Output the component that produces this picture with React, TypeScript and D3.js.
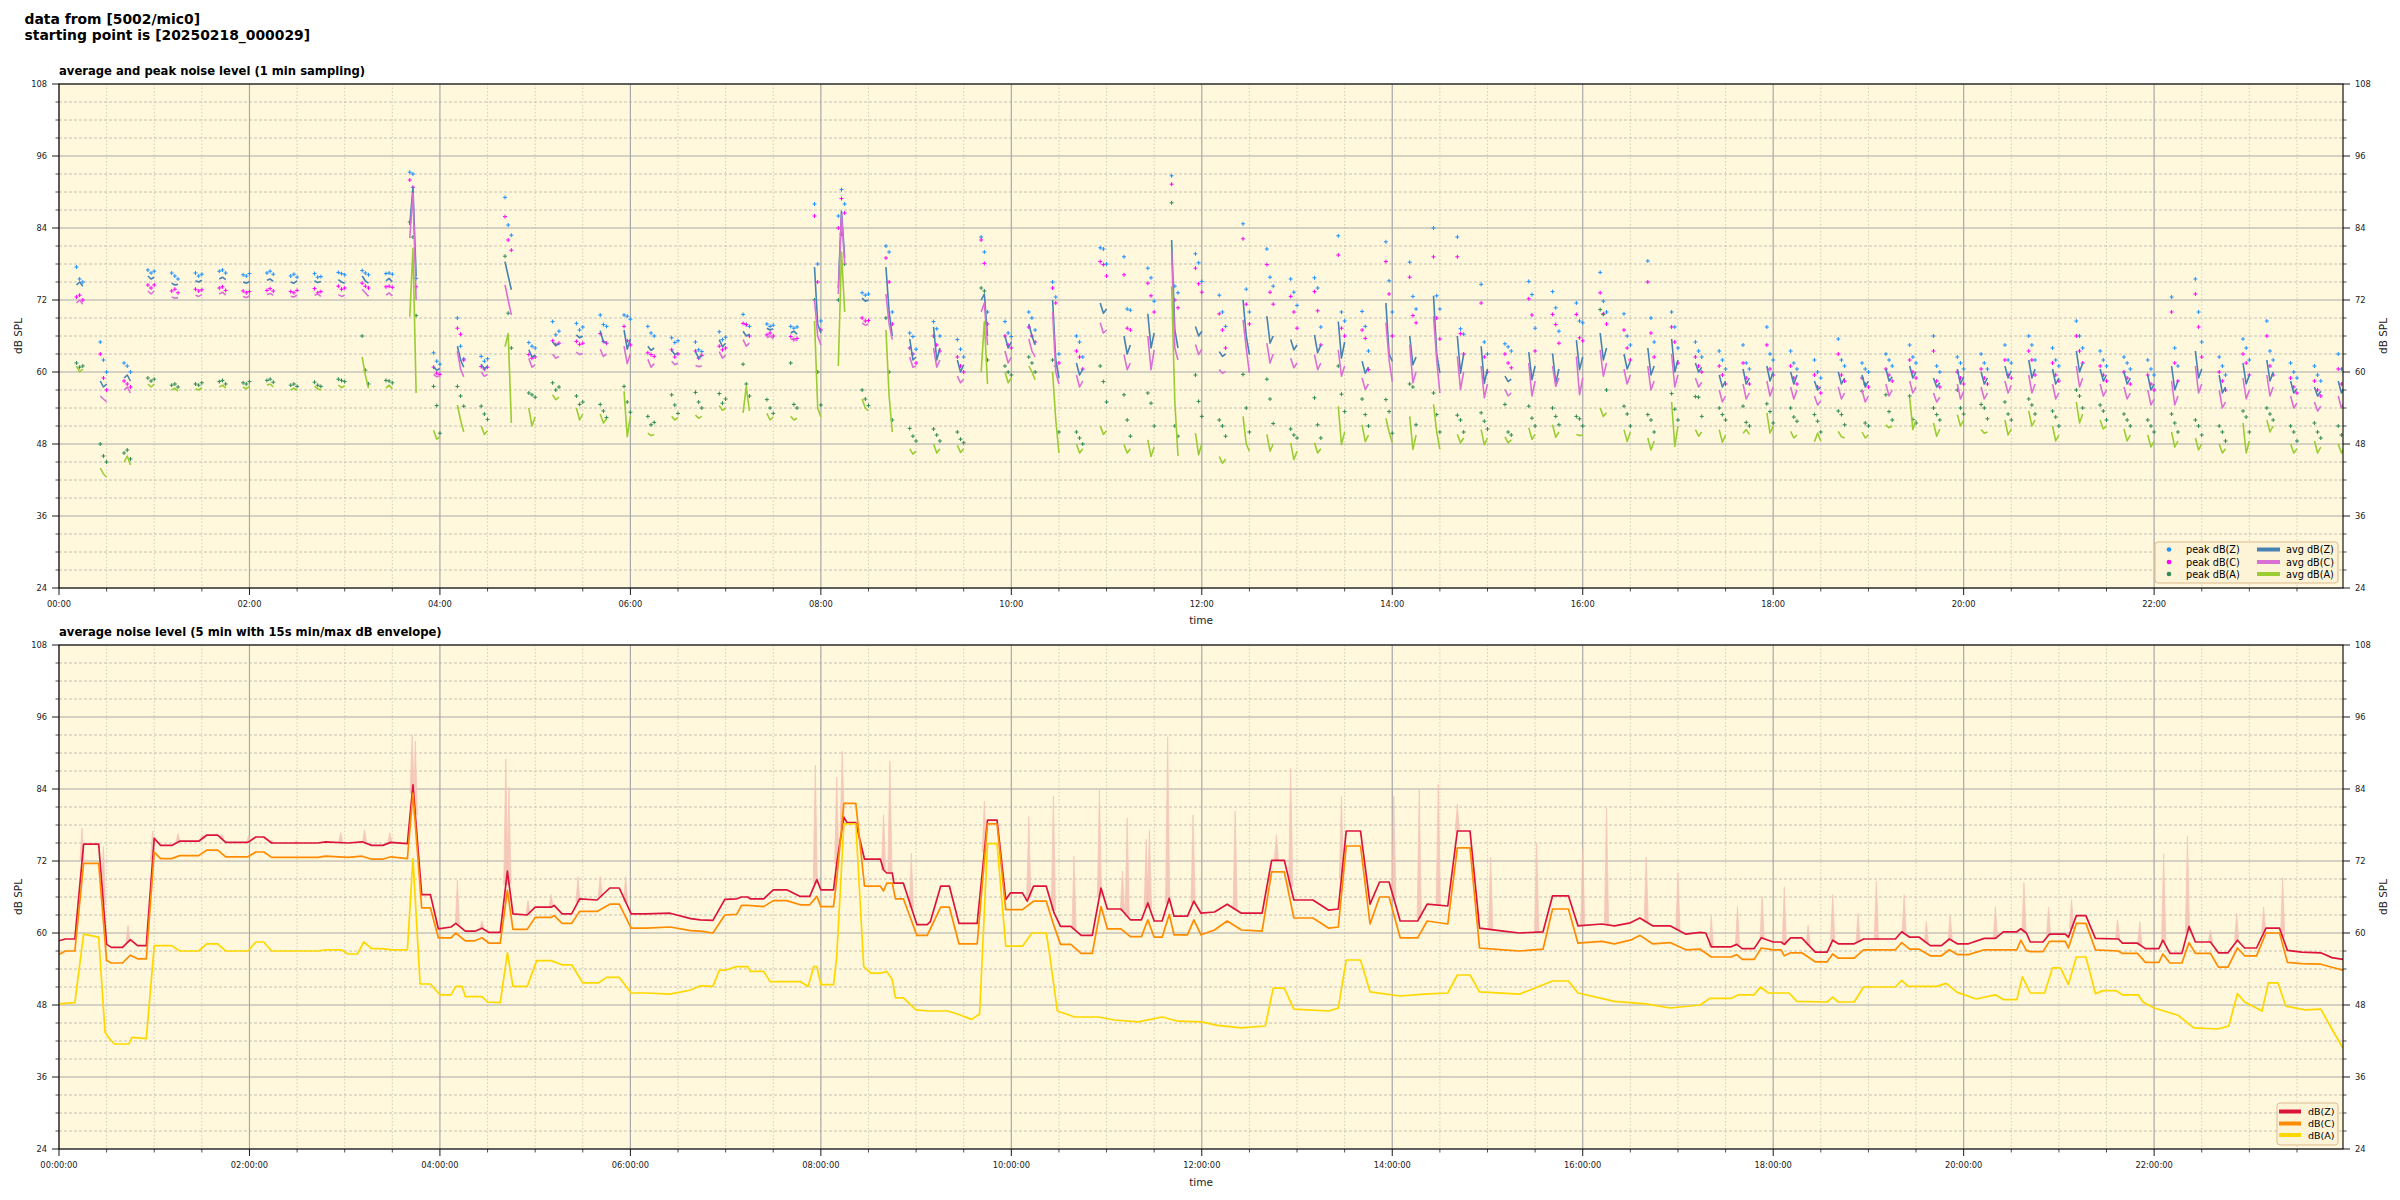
import React from "react";
import * as d3 from "d3";

const width = 2400;
const height = 1200;

// plot boxes (px)
const plotLeft = 59;
const plotRight = 2343;
const top1 = 84;
const bottom1 = 588;
const top2 = 645;
const bottom2 = 1149;

const font = "'DejaVu Sans', 'Liberation Sans', sans-serif";
const bg = "#fff8dc";

// minutes since 00:00
const tEnd = 1439;

// ---- top chart: 1 min sampling, one burst every 15 min ----
const burstTimes = [
  13, 28, 43, 58, 73, 88, 103, 118, 133, 148, 163, 178, 193, 208, 223, 238, 253, 268, 283, 298,
  313, 328, 343, 358, 373, 388, 403, 418, 433, 448, 463, 478, 493, 508, 523, 538, 553, 568, 583, 598,
  613, 628, 643, 658, 673, 688, 703, 718, 733, 748, 763, 778, 793, 808, 823, 838, 853, 868, 883, 898,
  913, 928, 943, 958, 973, 988, 1003, 1018, 1033, 1048, 1063, 1078, 1093, 1108, 1123, 1138, 1153, 1168, 1183, 1198,
  1213, 1228, 1243, 1258, 1273, 1288, 1303, 1318, 1333, 1348, 1363, 1378, 1393, 1408, 1423, 1438,
];
const sampleOffsets = [-2, 0, 2];

const avgZ = [
  [74.5, 75, 74.3], [58.5, 57.5, 58], [59, 59.5, 58.5], [76, 75.5, 75.8], [74.8, 74.5, 74.6], [75.2, 75, 75.3], [75.5, 75.8, 75.4], [75, 74.8, 75.1],
  [75.3, 75.5, 75.1], [75, 74.8, 75.2], [75.2, 74.9, 75.1], [75.4, 75, 74.8], [76, 75.2, 74.8], [75.2, 75.6, 75], [84.5, 90.8, 76], [60.8, 60.3, 60.6],
  [64.3, 62, 60.8], [61.3, 60.5, 61], [78.4, 76, 73.7], [63.7, 62.5, 62.8], [65, 64.4, 64.7], [66.2, 65.7, 66], [66.9, 65, 64.9], [67, 63.8, 65.5],
  [64.3, 63.6, 64], [63.6, 62.9, 63.2], [63.4, 62.3, 62.8], [65.4, 64.2, 64.8], [66.8, 66, 66.3], [67.3, 67, 67.2], [66.5, 66.8, 66.3], [77.5, 68, 66.5],
  [74, 86.8, 79], [72.3, 71.8, 72], [77.5, 70, 66], [65.5, 62, 62.5], [67.5, 62, 64], [62, 60, 61.2], [72, 73, 66], [66, 64, 65],
  [68, 66, 64.5], [72, 62, 59], [61.5, 59.5, 60.5], [71.5, 69.8, 70.5], [66, 63, 64.5], [69.7, 64, 66.5], [82, 67, 64], [67.6, 66, 66.8],
  [63.4, 62.6, 63], [72, 66, 62.9], [69.3, 64.8, 66], [65.4, 63.7, 64.5], [66.2, 63.2, 64.5], [68.4, 62.3, 65], [61.8, 59.8, 60.8], [71.5, 63, 61.8],
  [66, 61.2, 62.5], [72.7, 63, 59.8], [66, 59.8, 63], [64.3, 58.1, 60.5], [59.3, 58.4, 58.8], [63.3, 58.7, 61], [63.1, 58.1, 60.5], [65.3, 60.4, 62.5],
  [66.5, 62, 64], [63, 60.5, 61.8], [64, 59.5, 61], [65.5, 60, 62], [61.5, 60, 60.8], [59.5, 57.5, 58.5], [60.5, 58, 59], [61, 58.5, 60],
  [60, 58, 59.5], [58.5, 57, 57.5], [60, 58, 59], [59.5, 57.5, 58.5], [60.5, 58.5, 59.2], [61, 59, 60], [59, 57.5, 58.2], [60.5, 58, 59.2],
  [60, 58, 59], [61, 59, 60.2], [62, 59, 60.5], [60.5, 58, 59], [63.5, 60, 61.5], [60.5, 58.5, 59.5], [60, 58, 59], [59.5, 57, 58],
  [61, 57, 58.5], [63.5, 59, 60.5], [59.5, 56.5, 57.5], [61.5, 58, 59.5], [62, 58.5, 60], [58.5, 56.5, 57.2], [57.5, 56, 56.8], [58.5, 56.5, 57.5],
];
const avgC = [
  [71.5, 72, 71.3], [56, 55.5, 55], [57, 57.5, 56.5], [73.5, 73, 73.5], [72.5, 72.3, 72.4], [72.8, 72.6, 72.9], [73, 73.3, 72.8], [72.6, 72.4, 72.7],
  [72.9, 73.1, 72.8], [72.6, 72.5, 72.8], [72.8, 73, 72.6], [72.9, 72.6, 72.8], [73.8, 73.2, 72.6], [72.8, 73.2, 72.7], [82.3, 89.8, 72], [59.6, 59.2, 59.4],
  [63.5, 60.5, 59.2], [60, 59.3, 59.6], [74.5, 72, 69.5], [62.3, 60.8, 61.2], [63, 62.3, 62.6], [63.3, 62.9, 63.1], [63.8, 62.6, 63], [64.3, 61.4, 63],
  [62.1, 60.8, 61.4], [61.8, 61.2, 61.5], [61.1, 60.9, 61], [63.4, 62.3, 62.8], [65.4, 64.3, 64.8], [65.7, 66, 65.5], [65.4, 65.6, 65.2], [72, 66, 64.5],
  [73, 86.3, 78], [68.2, 67.8, 68], [73, 68, 65.4], [62.5, 60.8, 61], [64, 60.8, 62], [59.3, 58.2, 58.8], [70, 71.5, 64.5], [63.5, 61.5, 62.5],
  [65.5, 63.5, 62.5], [70, 60, 58], [59.5, 57.5, 58.5], [68.2, 66.5, 67], [62.9, 60.4, 61.5], [66, 60.4, 63.7], [80, 64, 62], [64.6, 62.9, 63.8],
  [60.4, 59.8, 60.1], [68.7, 64, 59.8], [64.8, 61.5, 63], [62.3, 60.7, 61.5], [62.9, 60.4, 61.5], [63.7, 59.3, 61], [59, 57.1, 58], [68.2, 62, 58.4],
  [64.6, 58.2, 60], [69.3, 62, 56.5], [62.6, 57.1, 60], [61, 55.7, 58], [57.1, 56, 56.5], [61.5, 56, 58.5], [61, 57.6, 59], [62.6, 56.2, 59],
  [63.7, 59.3, 61.5], [60.5, 58, 59.5], [61, 57, 58.5], [63, 57.5, 59.5], [59, 57.5, 58.3], [57, 55, 56], [58, 55.5, 56.5], [58.5, 56, 57.5],
  [57.5, 55.5, 57], [56, 54.5, 55.2], [57.5, 55.5, 56.5], [57, 55, 56], [58, 56, 57], [58.5, 56.5, 57.5], [56.5, 55, 55.8], [58, 55.5, 56.8],
  [57.5, 55.5, 56.5], [58.5, 56.5, 57.8], [59.5, 56.5, 58], [58, 55.5, 56.5], [61, 57.5, 59], [58, 56, 57], [57.5, 55.5, 56.5], [57, 54.5, 55.5],
  [58.5, 54.5, 56], [61, 56.5, 58], [57, 54, 55], [59, 55.5, 57], [59.5, 56, 57.5], [56, 54, 54.8], [55, 53.5, 54.3], [56, 54, 55],
];
const avgA = [
  [61, 60, 60.5], [44, 43, 42.5], [45, 46, 44.5], [58, 57.5, 58], [57, 57.3, 56.8], [57.2, 57, 57.4], [57.5, 57.8, 57.3], [57.5, 57.2, 57.6],
  [57.8, 58, 57.5], [57, 57.3, 56.9], [57.6, 57.2, 57], [57.8, 57.4, 57.7], [62.5, 59.5, 57.3], [57.3, 57.8, 57.2], [69.2, 80.6, 56.5], [50.3, 48.8, 49.2],
  [54.5, 52, 50], [51, 49.6, 50.2], [64.2, 66.4, 51.5], [54, 51, 52.5], [56.2, 55.4, 55.8], [54, 52, 53], [53, 51.5, 52.2], [56.8, 49.2, 52.6],
  [49.8, 49.4, 49.6], [52.6, 52, 52.4], [52.8, 52.3, 52.6], [54.4, 53.6, 54], [53.2, 57.6, 53.5], [53.1, 52, 52.5], [52.6, 52, 52.3], [68.5, 54, 52.5],
  [61, 80, 70], [55.5, 54, 53.5], [67, 56, 50], [47.2, 46.3, 46.8], [48, 46.5, 47.2], [47.8, 46.6, 47.2], [60, 68.4, 58], [60, 58.2, 59],
  [61, 60, 58.7], [60, 52, 46.5], [48, 46.5, 47.2], [51, 49.6, 50.2], [47.9, 46.5, 47.2], [48.7, 45.9, 47.5], [74.3, 55, 46], [49.8, 46.2, 48],
  [45.9, 44.8, 45.5], [52.6, 48, 46.8], [49.6, 46.8, 48], [48.2, 45.4, 46.8], [48.2, 46.5, 47.2], [54.3, 47.9, 50], [51.2, 48.4, 49.5], [52.3, 50, 48.2],
  [52.6, 47.1, 49.5], [54.6, 50, 47.1], [49.6, 48.2, 49], [50.4, 47.9, 49], [49.2, 48.2, 48.7], [50.7, 48.8, 49.6], [51.2, 49.1, 50], [49.6, 49.4, 49.5],
  [54, 52.6, 53.2], [50.4, 48.4, 50], [49, 47, 48.5], [55, 47.6, 51], [50.4, 49.3, 50], [50.4, 48.3, 49.5], [49.8, 50.4, 49.6], [53.2, 49.8, 51],
  [50.1, 49, 49.5], [48.4, 49.8, 48.5], [50.1, 49.2, 49], [50, 49, 49.5], [51.2, 50.7, 51], [55.7, 50.4, 52], [51.5, 49.3, 50.5], [52.9, 51, 52],
  [50.4, 49.8, 50], [52, 49.5, 50.5], [53.5, 51, 52], [51, 48.5, 49.5], [55, 51.5, 53], [52, 50.5, 51], [50.5, 48.5, 49.5], [49.5, 47.5, 48.5],
  [50, 47.5, 48.5], [49, 47, 48], [48, 46.5, 47.2], [51.5, 46.5, 48.5], [52, 50, 51], [48, 46.5, 47.2], [48.5, 46.5, 47.5], [48, 46.5, 47.5],
];
const peakZ = [
  [77.5, 75.5, 75], [65, 62, 60], [61.5, 61, 60], [77, 76.5, 76.8], [76.5, 76, 75.5], [76.5, 76, 76.3], [76.8, 77, 76.5], [76.2, 76, 76.4],
  [76.5, 76.8, 76.3], [76, 76.3, 75.8], [76.4, 75.8, 75.9], [76.6, 76.4, 76.2], [76.9, 76.5, 76.2], [76.4, 76.5, 76.3], [93.3, 93, 75.6], [63.2, 61.8, 61.3],
  [69, 64.3, 62.2], [62.6, 61.8, 62.2], [89.1, 84.5, 82.8], [64.9, 64.3, 64], [68.4, 66.2, 66.8], [68.1, 67, 67.5], [69.5, 67.9, 67.6], [69.5, 69.3, 68.8],
  [67.6, 66.5, 66], [65.7, 64.9, 65.2], [65, 63.7, 63.4], [66.7, 65.4, 65.8], [69.6, 67.9, 67.6], [68, 67.6, 67.8], [67.6, 67.3, 67.5], [88, 78, 68.5],
  [86, 90.4, 88], [73.2, 72.8, 73], [81, 80, 70], [66.5, 65.9, 63.8], [68.4, 67.2, 66], [65.4, 63.8, 62.5], [82.5, 80, 70], [68.4, 66.5, 65.9],
  [70, 69, 67], [75, 72.5, 63], [66, 65, 62.5], [80.7, 80.5, 78], [79.2, 70.5, 70.3], [77.3, 75.7, 71.8], [92.7, 74.3, 73.2], [79.7, 78.2, 75.1],
  [72.8, 70, 67.6], [84.7, 73.8, 70], [80.5, 75.8, 74.3], [75.5, 73.3, 71.1], [75.7, 74, 67.5], [82.7, 70, 68.5], [70.1, 67.6, 63.5], [81.7, 75.2, 70],
  [78.3, 72.6, 70.5], [84, 72.7, 70.5], [82.5, 67.2, 66.3], [74.6, 65, 63], [64.7, 64.2, 63.5], [75.1, 72.9, 67.3], [73.4, 70.7, 66.8], [71.5, 68.5, 68.2],
  [76.6, 71.8, 70], [69.7, 66, 64.5], [78.5, 69, 65], [70, 67.5, 64], [65, 63.5, 62.5], [63.5, 62, 60.5], [64.5, 61.5, 60.5], [67.5, 63, 62],
  [63.5, 61.5, 60.5], [62, 60, 59], [65.5, 62, 61], [61.5, 60.5, 60], [63, 62, 61], [64.5, 62.5, 61.5], [66, 61, 60], [62.5, 61.5, 60.5],
  [63, 61.5, 60.5], [64.5, 62, 61.5], [66, 64.5, 62], [64, 62, 61], [68.5, 66, 64], [63.5, 62, 61], [62.5, 61.5, 60.5], [62, 60.5, 59.5],
  [72.5, 64, 61], [75.5, 70, 65], [62.5, 61, 59.5], [65.5, 64, 62], [68.5, 63.5, 62], [61.5, 60, 59], [61, 59.5, 58.5], [63, 60.5, 59.5],
];
const peakC = [
  [72.5, 72.8, 72], [63, 59, 57], [58.5, 58, 57.5], [74.5, 74, 74.5], [73.5, 73.8, 73.2], [73.8, 73.5, 73.7], [74, 74.2, 73.6], [73.5, 73.2, 73.4],
  [73.6, 73.9, 73.5], [73.4, 73.2, 73.6], [73.9, 73.2, 73.4], [74.3, 73.8, 74], [74.8, 74.3, 74], [74.2, 74.3, 74.1], [92, 90.8, 74.2], [60.8, 59.8, 59.6],
  [67.3, 66.3, 62], [60.9, 60.5, 60.8], [85.9, 82, 80.3], [62.9, 62.3, 62.5], [65.2, 64.6, 64.8], [65.1, 64.6, 64.8], [66.4, 65.1, 64.8], [67.6, 65.2, 64.5],
  [63.2, 62.9, 62.6], [63.7, 62.5, 63], [63.5, 62.3, 62.8], [64.3, 63.7, 64], [68.1, 67.9, 66], [66.2, 66.5, 66], [65.9, 65.4, 65.6], [86, 75, 67],
  [84, 88.9, 86.5], [69, 68.5, 68.6], [79, 75, 68], [64, 63, 61.5], [66, 64.5, 63.5], [62.5, 61, 60], [82, 78.1, 68], [66, 64.5, 64],
  [67.5, 66, 65], [74, 71.5, 61.5], [63.5, 62.5, 60.5], [78.4, 77.9, 76], [76.2, 67.3, 67], [74.8, 72.7, 70], [91.3, 72, 70.7], [77.3, 74.7, 73.3],
  [69.7, 67, 64], [82.2, 71.3, 68], [77.9, 73.3, 71.3], [72.6, 70, 67.3], [73.4, 70.2, 64.5], [79.5, 67.3, 66], [67, 65.6, 60.4], [78.4, 73, 66],
  [75.8, 69.4, 68.2], [79.2, 69, 65.5], [79.2, 66.4, 63], [71.5, 62.5, 60], [63, 61.5, 60.7], [72.2, 69.5, 63.5], [69.6, 67.9, 64.8], [69.6, 65.7, 65.2],
  [73.2, 69.7, 68], [67, 64, 62], [75, 66.5, 62.5], [67.5, 65, 61.5], [62.5, 61, 60], [61, 59.5, 58], [61.5, 59, 58], [64.5, 60.5, 59.5],
  [61, 59, 58], [59.5, 57.5, 56.5], [63, 59.5, 58.5], [59, 58, 57.5], [60.5, 59.5, 58.5], [62, 60, 59], [63.5, 58.5, 57.5], [60, 59, 58],
  [60.5, 59, 58], [62, 59.5, 59], [63.5, 62, 59.5], [61.5, 59.5, 58.5], [66, 63.5, 61.5], [61, 59.5, 58.5], [60, 59, 58], [59.5, 58, 57],
  [70, 61.5, 58.5], [73, 67.5, 62.5], [60, 58.5, 57], [63, 61.5, 59.5], [66, 61, 59.5], [59, 57.5, 56.5], [58.5, 57, 56], [60.5, 58, 57],
];
const peakA = [
  [61.5, 60.8, 61], [48, 46, 45], [46.5, 47, 45.5], [59, 58.5, 58.8], [57.8, 58, 57.5], [58, 57.8, 58.2], [58.4, 58.6, 58], [58.2, 58, 58.4],
  [58.6, 58.8, 58.3], [57.8, 58, 57.6], [58.3, 57.8, 57.6], [58.8, 58.6, 58.4], [66, 60.3, 58], [58.6, 58.5, 58.2], [85, 82.5, 69.4], [57.6, 54.4, 49.8],
  [57.6, 56, 54.3], [54.3, 53, 52.1], [79.3, 69.8, 64], [56.5, 56.2, 55.8], [58.2, 57, 57.5], [56, 54.6, 55], [54.6, 53.5, 52.4], [57.6, 55, 53.3],
  [52.6, 51.2, 51.6], [56.2, 54.5, 53.1], [56.6, 55, 54], [56.4, 54.8, 55.5], [61.3, 58, 56], [55.4, 54, 53.1], [61.5, 54.6, 54], [72, 60, 54.5],
  [72, 83, 78], [57, 55.5, 54.4], [69, 60, 52], [50.6, 49.3, 48.5], [50.5, 49.5, 48.5], [50, 48.8, 48.2], [74, 73.5, 62], [61, 60, 59.5],
  [62.5, 61.5, 60], [62, 61, 50], [50, 49, 48], [61, 58.4, 55], [56.2, 52, 49.3], [56.5, 54.8, 51], [88.2, 51, 49.3], [59.5, 55.1, 52.6],
  [52, 51, 49.3], [59.6, 54, 50], [58.8, 55.5, 51.4], [50.5, 49.5, 49], [55.7, 51.2, 49], [61, 56.3, 53.4], [55.5, 52.9, 51], [55.4, 53.4, 49.8],
  [58, 57.5, 51.2], [56.5, 52.9, 50], [52.8, 52, 50], [53.2, 51.8, 50.5], [54.6, 50, 49.5], [54.3, 52.3, 51], [54, 52.6, 51.2], [52.6, 52.2, 51],
  [70.4, 69.6, 57], [54.3, 53, 51], [52.9, 52, 50], [56.4, 53.8, 52], [55.9, 55.8, 52.6], [54, 52.9, 52], [54.3, 51.6, 51], [54.7, 53.4, 51.5],
  [54, 52.5, 51.8], [52.9, 51.8, 50], [53.5, 52.9, 51.2], [56.8, 51.5, 51], [56.2, 53.4, 52], [56, 52.1, 51.5], [54, 52.9, 52], [57, 54, 53],
  [54.6, 54, 52.2], [55, 53, 52], [55.5, 54.5, 53], [53.5, 52.5, 51], [57, 56, 54], [54.5, 53.5, 52], [53, 52, 51], [52, 51, 50],
  [53, 51.5, 50], [52, 51, 49.5], [51, 50, 48.5], [53.5, 52.5, 50], [54, 53, 52], [51, 50, 48.5], [51.5, 50, 49], [51, 49.5, 48.5],
];

// ---- bottom chart: 5 min average, [minute, dB] ----
const zLine: [number, number][] = [
  [0, 58.7], [4, 59], [10, 59], [15.5, 74.8], [25, 74.8], [30, 58.1], [33, 57.6], [40, 57.6], [45, 58.9], [49.5, 57.9], [55, 57.9], [60, 75.8],
  [64, 74.6], [71, 74.6], [76, 75.3], [88, 75.3], [93, 76.3], [100, 76.3], [105, 75.1], [119, 75.1], [124, 76], [129, 76], [134, 75], [163, 75],
  [168, 75.2], [182, 75], [191, 75.2], [197, 74.6], [204, 74.6], [209, 75.1], [219.5, 74.9], [223, 84.7], [228.5, 66.4], [234, 66.4], [239, 60.7],
  [247, 61], [250, 61.6], [256, 60.3], [262, 60.3], [266.5, 60.8], [271, 60.1], [278, 60.1], [282.5, 70.3], [286, 63.2], [295, 63], [300, 64.3],
  [310, 64.3], [312, 64.6], [317, 63.2], [323, 63.2], [328, 65.7], [339, 65.5], [347, 67.5], [353, 67.5], [360.5, 63.2], [370, 63.2], [385, 63.3],
  [398, 62.4], [404, 62.2], [412, 62.1], [419.5, 65.6], [427, 65.7], [430, 66], [434, 66], [435.5, 65.7], [444, 65.7], [450, 67.2], [458.5, 67.2],
  [467, 66.1], [473, 66.1], [477.5, 68.9], [480, 67.2], [488, 67.2], [490, 71.6], [494.5, 79.3], [496.5, 78.4], [502, 78.4], [507.5, 72.3],
  [517.5, 72.3], [519.5, 70.5], [521.5, 70], [525, 70], [526, 68.3], [532, 68.3], [540.5, 61.4], [547, 61.4], [549, 61.9], [555.5, 67.8], [561, 67.8],
  [567, 61.6], [578.5, 61.6], [585, 78.8], [591, 78.8], [596.5, 65.6], [599.5, 66.7], [607, 66.7], [610, 65.3], [614, 67.8], [622, 67.8], [627, 63.3],
  [631, 61.1], [637.5, 61.1], [644, 59.6], [651, 59.6], [656.5, 67.5], [660.5, 64], [669, 64], [675, 62.2], [682, 62.2], [686, 65], [690, 62], [695, 62],
  [699.5, 65.8], [702.5, 62.8], [711, 62.8], [715, 65.3], [719.5, 63.3], [728, 63.5], [736, 64.8], [745, 63.3], [758, 63.3], [764, 72.1], [772, 72.1],
  [778, 65.5], [790, 65.5], [800, 63.8], [806, 64], [811, 77], [820, 77], [826, 64.8], [832, 68.5], [838, 68.5], [845, 62], [856, 62], [862, 64.8],
  [875, 64.5], [881, 77], [889, 77], [895, 60.8], [910, 60.3], [920, 60], [935, 60.2], [941, 66.2], [951, 66.2], [957, 61.2], [972, 61.5], [980, 61.2],
  [990, 61.7], [996, 62.5], [1004, 61.2], [1015, 61.2], [1025, 59.8], [1034, 60.1], [1037.5, 60], [1041, 57.7], [1053.5, 57.7], [1057, 58.1],
  [1060.5, 57.4], [1068, 57.4], [1072.5, 59.2], [1080, 58.5], [1085, 58.5], [1087, 58.1], [1091, 59.2], [1098, 59.2], [1106.5, 56.8], [1114, 56.8],
  [1117.5, 58.8], [1121, 58.2], [1131, 58.2], [1137, 59], [1157, 59], [1161, 60.2], [1166, 59.3], [1172, 59.3], [1179, 57.9], [1186, 57.9], [1191, 59],
  [1196, 58.2], [1203, 58.2], [1213, 59.1], [1220, 59.1], [1225, 60.2], [1233.5, 60.2], [1236, 60.7], [1239.5, 60], [1242, 58.5], [1250, 58.5],
  [1254, 59.8], [1264, 59.8], [1266, 59.3], [1271, 62.9], [1277, 62.9], [1283, 59.1], [1297.5, 59], [1300, 58.3], [1309.5, 58.3], [1314.5, 57.4],
  [1323, 57.4], [1325.5, 58.8], [1330, 56.6], [1337.5, 56.6], [1342, 61.1], [1346, 58.5], [1355.5, 58.5], [1360.5, 56.7], [1366.5, 56.7],
  [1372.5, 58.8], [1377, 57.5], [1384.5, 57.5], [1390.5, 60.8], [1399, 60.8], [1404, 57.1], [1413, 56.8], [1425, 56.7], [1432, 55.9], [1439, 55.6],
];
const cLine: [number, number][] = [
  [0, 56.4], [4, 57], [10, 57], [15.5, 71.6], [25, 71.6], [30, 55.4], [33, 55], [40, 55], [45, 56.3], [49.5, 55.7], [55, 55.7], [60, 73.5],
  [64, 72.4], [71, 72.4], [76, 72.9], [88, 72.9], [93, 73.8], [100, 73.8], [105, 72.7], [119, 72.7], [124, 73.5], [129, 73.5], [134, 72.6], [163, 72.6],
  [168, 72.8], [182, 72.6], [191, 72.8], [197, 72.3], [204, 72.3], [209, 72.7], [219.5, 72.4], [223, 83.3], [228.5, 64.2], [234, 64.2], [239, 59.2],
  [247, 59.2], [250, 60], [256, 58.7], [262, 58.7], [266.5, 59.2], [271, 58.3], [278, 58.3], [282.5, 67.1], [286, 60.6], [295, 60.6], [300, 62.6],
  [310, 62.6], [312, 62.9], [317, 61.6], [323, 61.6], [328, 63.6], [339, 63.6], [347, 64.8], [353, 64.8], [360.5, 60.8], [370, 60.8], [385, 61],
  [398, 60.4], [404, 60.3], [412, 60], [419.5, 63], [427, 63.1], [430, 64.6], [434, 64.6], [444, 64.4], [450, 65.4], [458.5, 65.4], [467, 64.7],
  [473, 64.7], [477.5, 66.1], [480, 64.4], [488, 64.4], [490, 69], [494.5, 81.6], [502, 81.6], [507.5, 67.8], [517.5, 67.8], [519.5, 67],
  [521.5, 68.3], [525, 68.3], [527, 65.7], [532, 65.7], [540.5, 59.6], [547, 59.6], [555.5, 64.3], [561, 64.3], [567, 58.2], [578.5, 58.2],
  [585, 78.2], [591, 78.2], [596.5, 63.9], [607, 63.9], [614, 65.3], [622, 65.3], [627, 61.1], [631, 58.1], [637.5, 58.1], [644, 56.6], [651, 56.6],
  [656.5, 64.4], [660.5, 60.7], [669, 60.7], [675, 59.4], [682, 59.4], [686, 62.2], [690, 59.3], [695, 59.3], [699.5, 63.1], [702.5, 59.7],
  [711, 59.7], [715, 62.2], [719.5, 59.7], [728, 60.5], [736, 62], [745, 60.5], [758, 60.3], [764, 70.2], [772, 70.2], [778, 62.5], [790, 62.5],
  [800, 60.8], [806, 61], [811, 74.5], [820, 74.5], [826, 61.5], [832, 66], [838, 66], [845, 59.2], [856, 59.2], [862, 62], [875, 61.5], [881, 74.2],
  [889, 74.2], [895, 57.5], [910, 57.2], [920, 57], [935, 57.3], [941, 64], [951, 64], [957, 58.3], [972, 58.6], [980, 58.2], [990, 58.8],
  [996, 59.6], [1004, 58.2], [1015, 58.4], [1025, 57.2], [1034, 57.3], [1041, 56], [1053.5, 56], [1057, 56.4], [1060.5, 55.6], [1068, 55.6],
  [1072.5, 57.5], [1080, 57.2], [1085, 57.2], [1087, 56.2], [1091, 56.7], [1098, 56.7], [1106.5, 55.2], [1114, 55.2], [1117.5, 56.5], [1121, 55.8],
  [1131, 55.8], [1137, 57.2], [1157, 57.2], [1161, 58.4], [1166, 57.3], [1172, 57.3], [1179, 56.2], [1186, 56.2], [1191, 57.2], [1196, 56.4],
  [1203, 56.4], [1213, 57.2], [1233.5, 57.2], [1236, 58.8], [1239.5, 57.1], [1242, 56.9], [1250, 56.9], [1254, 58.6], [1264, 58.6], [1266, 57.5],
  [1271, 61.6], [1277, 61.6], [1283, 57.2], [1297.5, 57], [1300, 56.6], [1309.5, 56.6], [1314.5, 55.1], [1323, 55.1], [1325.5, 56.5], [1330, 55],
  [1337.5, 55], [1342, 58.4], [1346, 56.6], [1355.5, 56.6], [1360.5, 54.3], [1366.5, 54.3], [1372.5, 57.5], [1377, 56.2], [1384.5, 56.2],
  [1390.5, 60], [1399, 60], [1404, 55.1], [1413, 54.9], [1425, 54.8], [1432, 54.3], [1439, 53.8],
];
const aLine: [number, number][] = [
  [0, 48.2], [10, 48.4], [15.5, 59.8], [25, 59.3], [29, 43.5], [32, 42.3], [35, 41.5], [44, 41.5], [46, 42.6], [55, 42.4], [60, 57.9], [71, 57.9],
  [76, 57], [88, 57], [93, 58.2], [100, 58.2], [105, 57], [119, 57], [124, 58.5], [129, 58.5], [134, 57], [163, 57], [168, 57.2], [178, 57.2],
  [182, 56.5], [188, 56.5], [192, 58.5], [197, 57.4], [204, 57.4], [209, 57.2], [219.5, 57.2], [223, 72.4], [227.5, 51.5], [234, 51.5], [240, 49.7],
  [247, 49.7], [250, 51.1], [254, 51.1], [256, 49.4], [266.5, 49.4], [270, 48.5], [278, 48.4], [282.5, 56.7], [286, 51.1], [295, 51.1], [301, 55.4],
  [310, 55.4], [317, 54.7], [323, 54.7], [330, 51.7], [340, 51.7], [345, 52.6], [353, 52.6], [360.5, 50], [370, 50], [385, 49.8], [398, 50.5],
  [404, 51.2], [412, 51.1], [416, 53.8], [419.5, 53.8], [427, 54.4], [434, 54.4], [435.5, 53.6], [444, 53.6], [448, 51.9], [467, 51.9], [472, 51.1],
  [475.5, 54.4], [477.5, 54.4], [480, 51.4], [488, 51.4], [490, 56.1], [494.5, 78.2], [502, 78.2], [507, 54.4], [511.5, 53.3], [517.5, 53.3],
  [521.5, 53.6], [525, 52.2], [527, 49.2], [532, 49.2], [540, 47.2], [548, 47], [560, 47], [566, 46.5], [575, 45.6], [580, 46.5], [585, 74.9],
  [591, 74.9], [596.5, 57.8], [607, 57.8], [613, 60], [622, 60], [624, 56.7], [629, 47], [640, 46], [655, 46], [665, 45.5], [680, 45.2], [695, 46],
  [705, 45.3], [720, 45.2], [730, 44.6], [745, 44.2], [760, 44.5], [765, 50.8], [772, 50.8], [778, 47.3], [800, 47], [806, 47.5], [811, 55.5],
  [820, 55.5], [826, 50.2], [845, 49.5], [860, 49.8], [875, 50], [881, 53], [889, 53], [895, 50.2], [920, 49.8], [941, 52], [951, 52], [957, 50],
  [980, 48.6], [1000, 48.2], [1015, 47.5], [1034, 48], [1040, 49.1], [1053.5, 49.1], [1058, 49.7], [1068, 49.7], [1072, 51], [1077, 50], [1090, 50],
  [1095, 48.6], [1114, 48.5], [1117.5, 49.3], [1121, 48.5], [1131, 48.5], [1137, 51], [1157, 51], [1161, 52.1], [1165, 51.1], [1183, 51.1],
  [1189, 51.6], [1196, 50.1], [1208, 49], [1220, 49.7], [1225, 48.9], [1233.5, 48.9], [1237, 52.7], [1242, 50], [1251, 50], [1256, 54.2],
  [1261, 54.2], [1266, 51.4], [1271, 56], [1277, 56], [1283, 49.9], [1288, 50.4], [1296, 50.4], [1300, 49.7], [1310, 49.7], [1313, 48.5],
  [1320, 47.5], [1335, 46.3], [1345, 44.2], [1360, 44], [1367, 44.5], [1372.5, 49.9], [1377, 48.5], [1388, 47], [1392, 51.7], [1398, 51.7],
  [1403, 47.8], [1415, 47.2], [1425, 47.3], [1432, 44], [1439, 40.8],
];
// 15 s max envelope spikes: [minute, max dB]
const envSpikes: [number, number][] = [
  [14.5, 77.5], [28, 74.4], [43.5, 61.3], [59, 77], [75, 76.6], [90.5, 76.3], [102.5, 76.5], [119.5, 76.2], [134, 75.5], [149.5, 75.4],
  [177.5, 76.7], [192.5, 77.2], [208.5, 76.7], [222.5, 93], [224.5, 92], [251, 68.8], [266.5, 62], [281.5, 89], [283.5, 84.3], [295.5, 65.4],
  [310, 66.4], [327, 69.4], [341, 69.4], [357, 69.4], [476.5, 88], [490, 86], [493.5, 90.3], [519.5, 79.7], [523.5, 88.6], [537, 73.3],
  [583, 82], [611, 79.4], [626.5, 82.8], [639.5, 72.8], [655.5, 83.9], [670, 70.3], [673, 79.2], [685, 75.6], [687, 77.2], [698.5, 92.7],
  [714.5, 79.7], [741, 80.3], [767, 76.4], [776, 87.5], [808, 82.8], [841, 82.8], [857, 84], [869, 84.8], [881, 81.5], [902, 72.6], [931, 75],
  [960, 74], [975, 80.8], [1000, 72.6], [1020, 70], [1041, 62.8], [1057.5, 64.4], [1073, 66.1], [1087, 67.7], [1102, 61.3], [1117.5, 66.4],
  [1133.5, 63.3], [1145, 68.6], [1162.5, 66.4], [1176.5, 61.9], [1191.5, 62.9], [1220, 64.4], [1238, 68.4], [1253.5, 64.3], [1268, 65.6],
  [1297, 62.2], [1311, 61.9], [1326, 73.2], [1341, 76.2], [1355.5, 60.5], [1372, 63.3], [1389, 64.3], [1401, 69.2],
];

const colors = {
  peakZ: "#1e90ff",
  peakC: "#ff00ff",
  peakA: "#2e8b57",
  avgZ: "#4682b4",
  avgC: "#da70d6",
  avgA: "#9acd32",
  dbZ: "#dc143c",
  dbC: "#ff8c00",
  dbA: "#ffd700",
};

const x = d3.scaleLinear().domain([0, tEnd]).range([plotLeft, plotRight]);
const yTop = d3.scaleLinear().domain([24, 108]).range([bottom1, top1]);
const yBot = d3.scaleLinear().domain([24, 108]).range([bottom2, top2]);

const majorY = d3.range(24, 109, 12);
const minorY = d3.range(24, 109, 3).filter((v) => (v - 24) % 12 !== 0);
const majorX = d3.range(0, tEnd, 120);
const minorX = d3.range(0, tEnd, 30).filter((v) => v % 120 !== 0);

const pad2 = (n: number) => String(n).padStart(2, "0");

function Grid({ y, top, bottom }: any) {
  return (
    <g>
      <rect x={plotLeft} y={top} width={plotRight - plotLeft} height={bottom - top} fill={bg} />
      {minorX.map((t) => (
        <line key={"vx" + t} x1={x(t)} x2={x(t)} y1={top} y2={bottom} stroke="#c9c4b4" strokeWidth={0.8} strokeDasharray="1.5,2" />
      ))}
      {minorY.map((v) => (
        <line key={"hy" + v} x1={plotLeft} x2={plotRight} y1={y(v)} y2={y(v)} stroke="#bdbab0" strokeWidth={0.9} strokeDasharray="3,2" />
      ))}
      {majorX.map((t) => (
        <line key={"VX" + t} x1={x(t)} x2={x(t)} y1={top} y2={bottom} stroke="#a9a9a9" strokeWidth={1.2} />
      ))}
      {majorY.map((v) => (
        <line key={"HY" + v} x1={plotLeft} x2={plotRight} y1={y(v)} y2={y(v)} stroke="#a9a9a9" strokeWidth={1.2} />
      ))}
    </g>
  );
}

function Axes({ y, top, bottom, fmt, title, titleY, xlabelY }: any) {
  const mid = (top + bottom) / 2;
  return (
    <g fontFamily={font} fill="#222">
      <rect x={plotLeft} y={top} width={plotRight - plotLeft} height={bottom - top} fill="none" stroke="#000" strokeWidth={1.1} />
      {majorY.map((v) => (
        <g key={"ty" + v}>
          <line x1={plotLeft - 7} x2={plotLeft} y1={y(v)} y2={y(v)} stroke="#000" strokeWidth={0.9} />
          <line x1={plotRight} x2={plotRight + 7} y1={y(v)} y2={y(v)} stroke="#000" strokeWidth={0.9} />
          <text x={plotLeft - 12} y={y(v)} fontSize={8.3} textAnchor="end" dominantBaseline="central">{v}</text>
          <text x={plotRight + 12} y={y(v)} fontSize={8.3} textAnchor="start" dominantBaseline="central">{v}</text>
        </g>
      ))}
      {minorY.map((v) => (
        <g key={"my" + v}>
          <line x1={plotLeft - 3.5} x2={plotLeft} y1={y(v)} y2={y(v)} stroke="#000" strokeWidth={0.7} />
          <line x1={plotRight} x2={plotRight + 3.5} y1={y(v)} y2={y(v)} stroke="#000" strokeWidth={0.7} />
        </g>
      ))}
      {majorX.map((t) => (
        <g key={"tx" + t}>
          <line x1={x(t)} x2={x(t)} y1={bottom} y2={bottom + 7} stroke="#000" strokeWidth={0.9} />
          <text x={x(t)} y={bottom + 18.5} fontSize={8.3} textAnchor="middle">{fmt(t)}</text>
        </g>
      ))}
      {minorX.map((t) => (
        <line key={"mx" + t} x1={x(t)} x2={x(t)} y1={bottom} y2={bottom + 3.5} stroke="#000" strokeWidth={0.7} />
      ))}
      <text x={(plotLeft + plotRight) / 2} y={xlabelY} fontSize={10.5} textAnchor="middle">time</text>
      <text transform={`translate(18,${mid}) rotate(-90)`} fontSize={10.5} textAnchor="middle" dominantBaseline="central">dB SPL</text>
      <text transform={`translate(2383,${mid}) rotate(-90)`} fontSize={10.5} textAnchor="middle" dominantBaseline="central">dB SPL</text>
      <text x={plotLeft} y={titleY} fontSize={11.6} fontWeight="bold" fill="#000">{title}</text>
    </g>
  );
}

const plus = (cx: number, cy: number) => `M${cx - 2},${cy}H${cx + 2}M${cx},${cy - 2}V${cy + 2}`;

export default function App() {
  const burstPts = (vals: number[], k: number) =>
    vals.map((v, i) => [burstTimes[k] + sampleOffsets[i], v] as [number, number]);
  const lineTop = d3.line<[number, number]>().x((d) => x(d[0])).y((d) => yTop(d[1]));
  const lineBot = d3.line<[number, number]>().x((d) => x(d[0])).y((d) => yBot(d[1]));

  const bis = d3.bisector((d: [number, number]) => d[0]).left;
  const zAt = (t: number) => {
    const i = bis(zLine, t);
    if (i <= 0) return zLine[0][1];
    if (i >= zLine.length) return zLine[zLine.length - 1][1];
    const a = zLine[i - 1];
    const b = zLine[i];
    return a[1] + ((b[1] - a[1]) * (t - a[0])) / (b[0] - a[0]);
  };

  const peakSeries = [
    { data: peakZ, color: colors.peakZ },
    { data: peakC, color: colors.peakC },
    { data: peakA, color: colors.peakA },
  ];
  const avgSeries = [
    { data: avgZ, color: colors.avgZ },
    { data: avgC, color: colors.avgC },
    { data: avgA, color: colors.avgA },
  ];

  const legendRows = [549.5, 562, 574];
  const legend2Rows = [1111.5, 1123.5, 1135];

  return (
    <svg width={width} height={height} style={{ position: "absolute", left: 0, top: 0, background: "#fff" }}>
      <defs>
        <clipPath id="clipTop">
          <rect x={plotLeft} y={top1} width={plotRight - plotLeft} height={bottom1 - top1} />
        </clipPath>
        <clipPath id="clipBot">
          <rect x={plotLeft} y={top2} width={plotRight - plotLeft} height={bottom2 - top2} />
        </clipPath>
      </defs>

      <g fontFamily={font} fontWeight="bold" fontSize={13.9}>
        <text x={24.5} y={23.5}>data from [5002/mic0]</text>
        <text x={24.5} y={39.5}>starting point is [20250218_000029]</text>
      </g>

      {/* top chart */}
      <Grid y={yTop} top={top1} bottom={bottom1} />
      <g clipPath="url(#clipTop)">
        {peakSeries.map((s, si) => (
          <path
            key={"pk" + si}
            d={s.data.map((vals, k) => burstPts(vals, k).map((p) => plus(x(p[0]), yTop(p[1]))).join("")).join("")}
            stroke={s.color}
            strokeWidth={1}
            fill="none"
          />
        ))}
        {avgSeries.map((s, si) => (
          <g key={"av" + si}>
            {s.data.map((vals, k) => (
              <path key={k} d={lineTop(burstPts(vals, k)) || ""} stroke={s.color} strokeWidth={1.6} fill="none" strokeLinejoin="round" />
            ))}
          </g>
        ))}
      </g>
      <Axes
        y={yTop}
        top={top1}
        bottom={bottom1}
        fmt={(t: number) => `${pad2(t / 60)}:00`}
        title="average and peak noise level (1 min sampling)"
        titleY={75}
        xlabelY={624}
      />
      <g fontFamily={font} fontSize={9.7}>
        <rect x={2155} y={542} width={183} height={41} rx={3} fill="#fdf4d8" stroke="#dcbb8c" strokeWidth={1} />
        {peakSeries.map((s, i) => (
          <g key={"lg1" + i}>
            <circle cx={2169} cy={legendRows[i]} r={2.3} fill={s.color} />
            <text x={2186} y={legendRows[i]} dominantBaseline="central">{["peak dB(Z)", "peak dB(C)", "peak dB(A)"][i]}</text>
          </g>
        ))}
        {avgSeries.map((s, i) => (
          <g key={"lg2" + i}>
            <line x1={2257} x2={2280} y1={legendRows[i]} y2={legendRows[i]} stroke={s.color} strokeWidth={4} />
            <text x={2286} y={legendRows[i]} dominantBaseline="central">{["avg dB(Z)", "avg dB(C)", "avg dB(A)"][i]}</text>
          </g>
        ))}
      </g>

      {/* bottom chart */}
      <Grid y={yBot} top={top2} bottom={bottom2} />
      <g clipPath="url(#clipBot)">
        {envSpikes.map(([t, v], i) => {
          const base = zAt(t);
          return (
            <path
              key={"sp" + i}
              d={`M${x(t - 1.3)},${yBot(base)}L${x(t)},${yBot(v)}L${x(t + 1.3)},${yBot(base)}Z`}
              fill="#f4c0b4"
              stroke="#f4c0b4"
              strokeWidth={0.8}
              opacity={0.85}
            />
          );
        })}
        <path d={lineBot(zLine) || ""} stroke={colors.dbZ} strokeWidth={1.7} fill="none" strokeLinejoin="round" />
        <path d={lineBot(cLine) || ""} stroke={colors.dbC} strokeWidth={1.7} fill="none" strokeLinejoin="round" />
        <path d={lineBot(aLine) || ""} stroke={colors.dbA} strokeWidth={1.7} fill="none" strokeLinejoin="round" />
      </g>
      <Axes
        y={yBot}
        top={top2}
        bottom={bottom2}
        fmt={(t: number) => `${pad2(t / 60)}:00:00`}
        title="average noise level (5 min with 15s min/max dB envelope)"
        titleY={636}
        xlabelY={1186}
      />
      <g fontFamily={font} fontSize={9.5}>
        <rect x={2277} y={1103} width={61} height={42} rx={3} fill="#fdf4d8" stroke="#dcbb8c" strokeWidth={1} />
        {[colors.dbZ, colors.dbC, colors.dbA].map((c, i) => (
          <g key={"lg3" + i}>
            <line x1={2279} x2={2301} y1={legend2Rows[i]} y2={legend2Rows[i]} stroke={c} strokeWidth={4} />
            <text x={2308} y={legend2Rows[i]} dominantBaseline="central">{["dB(Z)", "dB(C)", "dB(A)"][i]}</text>
          </g>
        ))}
      </g>
    </svg>
  );
}
